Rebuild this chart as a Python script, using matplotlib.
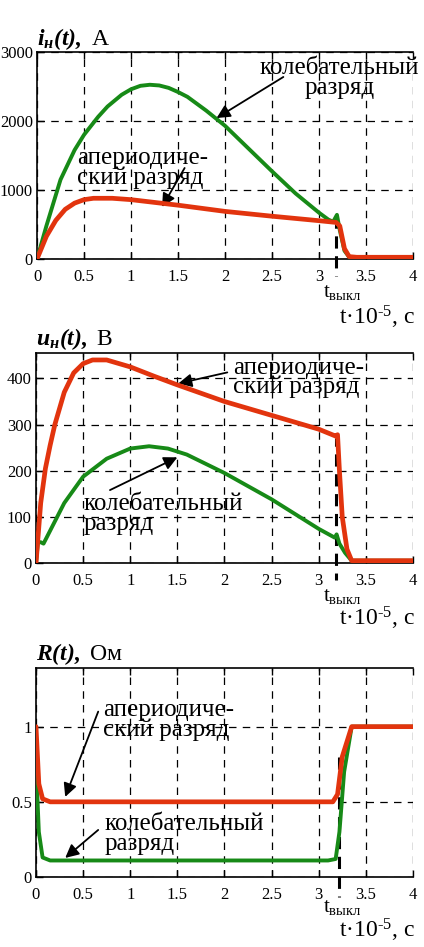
import matplotlib
matplotlib.use("Agg")
import matplotlib.pyplot as plt

plt.rcParams["font.family"] = ["Liberation Serif", "DejaVu Serif"]
plt.rcParams["mathtext.fontset"] = "custom"
plt.rcParams["mathtext.rm"] = "Liberation Serif"
plt.rcParams["mathtext.it"] = "Liberation Serif:italic"
plt.rcParams["mathtext.bf"] = "Liberation Serif:bold"
plt.rcParams["mathtext.bfit"] = "Liberation Serif:bold:italic"

RED = "#e2340e"
GREEN = "#178a17"

# ---- current i_н(t), A ----
t_i_osc = [0, 0.1, 0.25, 0.4, 0.5, 0.65, 0.75, 0.9, 1.0, 1.1, 1.2, 1.3, 1.4, 1.5, 1.6, 1.8,
           2.0, 2.25, 2.5, 2.75, 3.0, 3.1, 3.15, 3.19, 3.22, 3.27, 3.32, 3.4, 4.0]
i_osc = [0, 480, 1150, 1580, 1800, 2060, 2210, 2380, 2460, 2510, 2525, 2515, 2480, 2420, 2350, 2150,
         1930, 1600, 1270, 950, 670, 570, 540, 640, 420, 120, 30, 20, 20]
t_i_aper = [0, 0.1, 0.2, 0.3, 0.4, 0.5, 0.6, 0.8, 1.0, 1.25, 1.5, 1.75, 2.0, 2.5, 3.0, 3.18,
            3.22, 3.27, 3.32, 3.4, 4.0]
i_aper = [0, 330, 560, 720, 810, 860, 880, 880, 860, 820, 780, 735, 690, 620, 555, 530,
          480, 150, 35, 25, 25]

# ---- voltage u_н(t), B ----
t_u_aper = [0, 0.05, 0.1, 0.15, 0.2, 0.3, 0.4, 0.5, 0.6, 0.75, 1.0, 1.25, 1.5, 1.75, 2.0, 2.5,
            3.0, 3.18, 3.2, 3.22, 3.25, 3.3, 3.35, 4.0]
u_aper = [0, 130, 205, 255, 300, 370, 412, 432, 440, 440, 425, 405, 386, 368, 350, 320,
          290, 275, 278, 200, 100, 30, 5, 5]
t_u_osc = [0, 0.02, 0.05, 0.08, 0.15, 0.3, 0.5, 0.75, 1.0, 1.2, 1.4, 1.6, 2.0, 2.5, 3.0,
           3.17, 3.19, 3.22, 3.28, 3.35, 4.0]
u_osc = [0, 45, 45, 42, 70, 130, 187, 226, 248, 253, 248, 235, 195, 138, 74,
         55, 62, 42, 22, 5, 5]

# ---- resistance R(t), Ом ----
t_r_aper = [0, 0.03, 0.07, 0.15, 1.0, 2.0, 3.15, 3.2, 3.25, 3.3, 3.35, 4.0]
r_aper = [1.0, 0.62, 0.52, 0.5, 0.5, 0.5, 0.5, 0.55, 0.8, 0.9, 1.0, 1.0]
t_r_osc = [0, 0.03, 0.07, 0.15, 1.0, 2.0, 3.1, 3.18, 3.22, 3.27, 3.35, 4.0]
r_osc = [0.75, 0.3, 0.13, 0.11, 0.11, 0.11, 0.11, 0.12, 0.3, 0.7, 1.0, 1.0]

x_ticks = [0, 0.5, 1, 1.5, 2, 2.5, 3, 3.5, 4]
x_ticklabels = ["0", "0.5", "1", "1.5", "2", "2.5", "3", "3.5", "4"]
t_off = [3.18, 3.18, 3.22]

fig = plt.figure(figsize=(4.24, 9.47), dpi=100)

panels = [
    dict(rect=[0.0873, 0.7265, 0.887, 0.2186], ylim=3000, yticks=[0, 1000, 2000, 3000],
         ytl=["0", "1000", "2000", "3000"],
         title=r"$\mathbfit{i_{н}(t),}$ А", cut=(620, -250)),
    dict(rect=[0.0849, 0.4055, 0.889, 0.2217], ylim=455, yticks=[0, 100, 200, 300, 400],
         ytl=["0", "100", "200", "300", "400"],
         title=r"$\mathbfit{u_{н}(t),}$ В", cut=(280, -37)),
    dict(rect=[0.0849, 0.0739, 0.889, 0.2207], ylim=1.39, yticks=[0, 0.5, 1],
         ytl=["0", "0.5", "1"],
         title=r"$\mathbfit{R(t),}$ Ом", cut=(0.8, -0.13)),
]
series = [
    (t_i_osc, i_osc, t_i_aper, i_aper),
    (t_u_osc, u_osc, t_u_aper, u_aper),
    (t_r_osc, r_osc, t_r_aper, r_aper),
]

axes = []
for k, (p, s) in enumerate(zip(panels, series)):
    ax = fig.add_axes(p["rect"])
    axes.append(ax)
    ax.plot(s[0], s[1], color=GREEN, lw=2.8, solid_capstyle="round",
            solid_joinstyle="round", zorder=3)
    ax.plot(s[2], s[3], color=RED, lw=3.4, solid_capstyle="round",
            solid_joinstyle="round", zorder=4)
    ax.set_xlim(0, 4)
    ax.set_ylim(0, p["ylim"])
    ax.set_xticks(x_ticks)
    ax.set_xticklabels(x_ticklabels)
    ax.set_yticks(p["yticks"])
    ax.set_yticklabels(p["ytl"])
    ax.grid(True, color="k", ls=(0, (6, 5)), lw=0.9)
    ax.spines["right"].set_visible(False)
    for sp in ["left", "bottom", "top"]:
        ax.spines[sp].set_linewidth(1.2)
    ax.tick_params(direction="in", top=True, right=False, length=5, width=1,
                   labelsize=12, pad=3)
    ax.tick_params(axis="x", pad=7)
    ax.plot([t_off[k], t_off[k]], list(p["cut"]), color="k", ls=(0, (4, 2.5)),
            lw=2.2, clip_on=False, zorder=2.5)
    ax.text(0.0, 1.065, p["title"], transform=ax.transAxes, fontsize=17,
            ha="left", va="center")
    ax.text(1.005, [-0.28, -0.266, -0.254][k], "t·10$^{‐5}$, с",
            transform=ax.transAxes, fontsize=17, ha="right", va="center")
    ax.text(3.25, [-0.16, -0.16, -0.148][k], r"t$_{\mathrm{выкл}}$",
            transform=ax.get_xaxis_transform(), fontsize=15, ha="center", va="center")

arrow = dict(arrowstyle="-|>", color="k", lw=1.3, mutation_scale=20, shrinkA=0, shrinkB=0)
fs = 18
ls = 0.85

ax1, ax2, ax3 = axes
ax1.text(3.22, 2620, "колебательный\nразряд", fontsize=fs, ha="center", va="center",
         linespacing=ls)
ax1.annotate("", xy=(1.91, 2043), xytext=(2.62, 2638), arrowprops=arrow)
ax1.text(0.43, 1319, "апериодиче-\nский разряд", fontsize=fs, ha="left", va="center",
         linespacing=ls)
ax1.annotate("", xy=(1.33, 754), xytext=(1.57, 1319), arrowprops=arrow)

ax2.text(2.09, 402, "апериодиче-\nский разряд", fontsize=fs, ha="left", va="center",
         linespacing=ls)
ax2.annotate("", xy=(1.51, 389), xytext=(2.03, 413), arrowprops=arrow)
ax2.text(0.50, 106, "колебательный\nразряд", fontsize=fs, ha="left", va="center",
         linespacing=ls)
ax2.annotate("", xy=(1.50, 229), xytext=(0.785, 158), arrowprops=arrow)

ax3.text(0.71, 1.047, "апериодиче-\nский разряд", fontsize=fs, ha="left", va="center",
         linespacing=ls)
ax3.annotate("", xy=(0.31, 0.533), xytext=(0.66, 1.10), arrowprops=arrow)
ax3.text(0.73, 0.287, "колебательный\nразряд", fontsize=fs, ha="left", va="center",
         linespacing=ls)
ax3.annotate("", xy=(0.31, 0.127), xytext=(0.66, 0.313), arrowprops=arrow)

fig.savefig("out.png", dpi=100)
